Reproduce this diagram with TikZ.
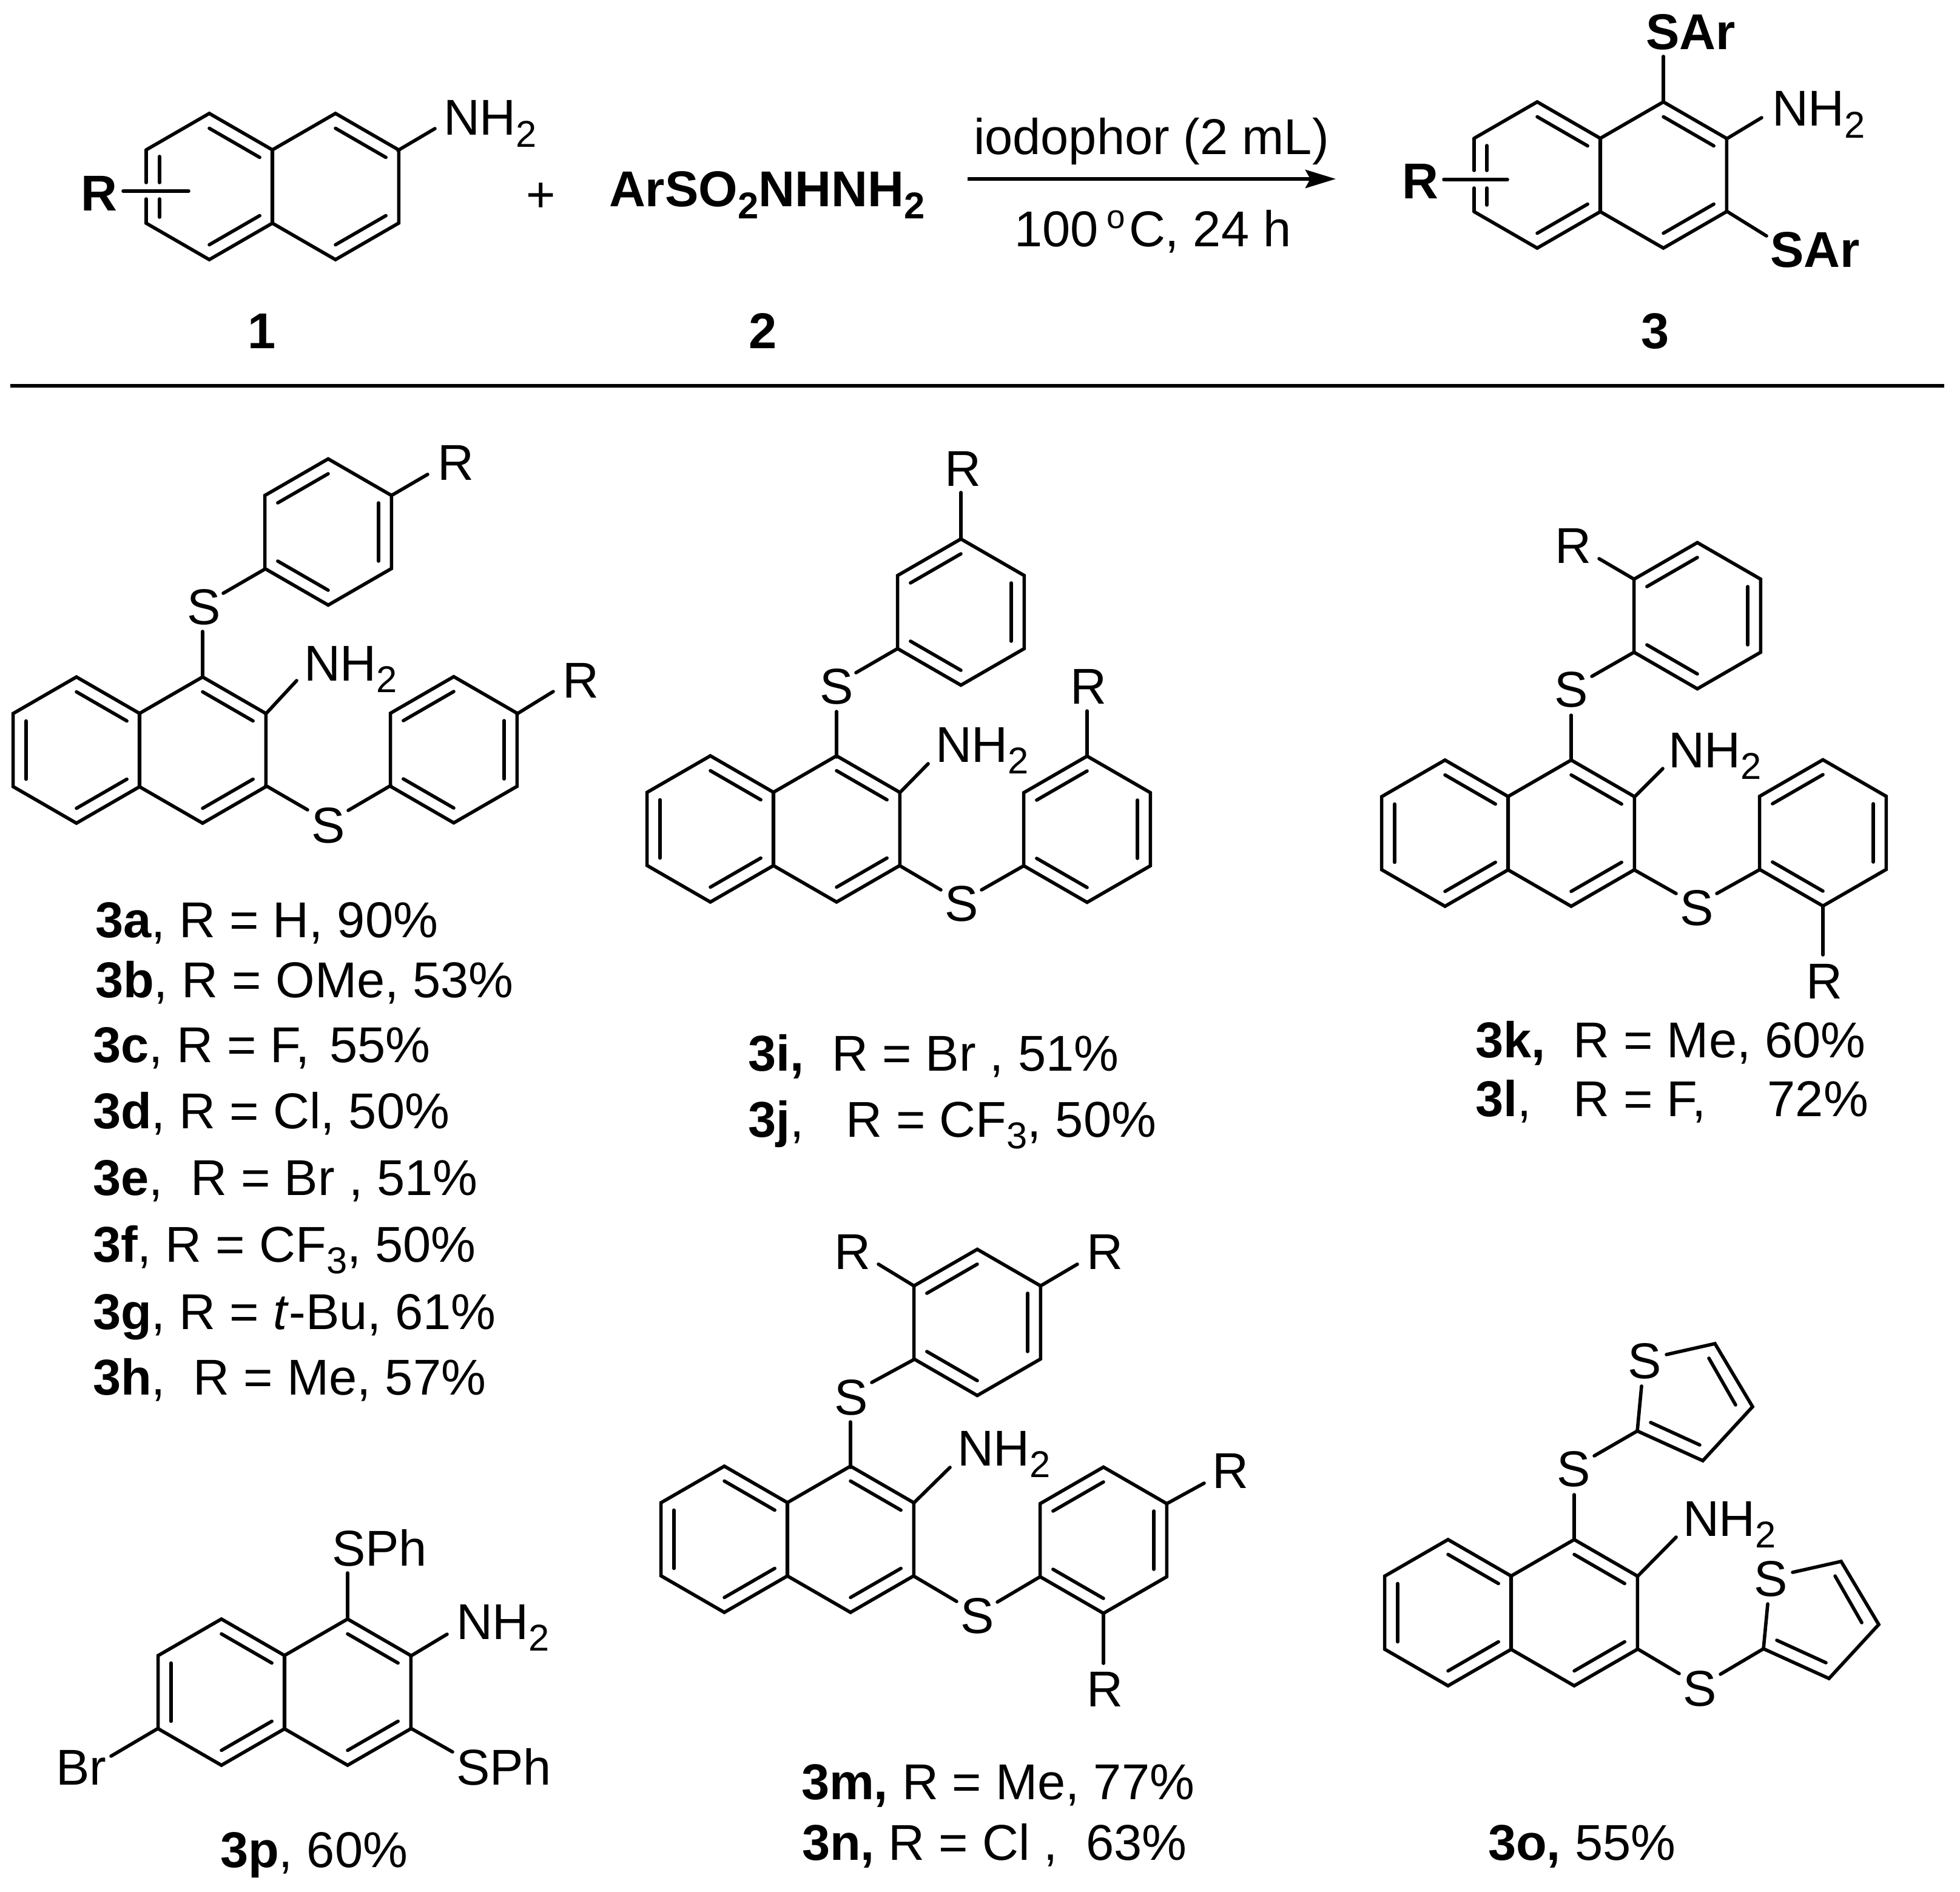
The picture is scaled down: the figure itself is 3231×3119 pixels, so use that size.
\documentclass[tikz,border=0pt]{standalone}
\usepackage{fontspec}
\setmainfont{Liberation Sans}
\usetikzlibrary{arrows.meta}
\newcommand{\subs}[1]{\raisebox{-0.19cm}{\fontsize{17.5}{20}\selectfont #1}}
\newcommand{\hexr}[3]{%
  \draw[bond] ({#1+120.5*cos(90)},{#2-120.5*sin(90)})
    \foreach \a in {30,-30,-90,-150,150} { -- ({#1+120.5*cos(\a)},{#2-120.5*sin(\a)}) } -- cycle;
  \foreach \a in {#3} {\draw[bond] ({#1+96*cos(\a)},{#2-96*sin(\a)}) -- ({#1+96*cos(\a-60)},{#2-96*sin(\a-60)});}}
\newcommand{\hexopen}[3]{%
  \draw[bond] ({#1+120.5*cos(150)},{#2-120.5*sin(150)})
    \foreach \a in {90,30,-30,-90,-150} { -- ({#1+120.5*cos(\a)},{#2-120.5*sin(\a)}) };
  \foreach \a in {#3} {\draw[bond] ({#1+96*cos(\a)},{#2-96*sin(\a)}) -- ({#1+96*cos(\a-60)},{#2-96*sin(\a-60)});}}
\newcommand{\naph}[2]{%
  \hexr{#1-104}{#2+59.5}{90,-30,-150}
  \hexr{#1+104}{#2+59.5}{90,-30}}
\newcommand{\lab}[4]{\node[lab] (#1) at (#2,#3) {#4};}
\newcommand{\catm}[4]{\node[catom] (#1) at (#2,#3) {#4};}
\newcommand{\thio}[3]{%
  \begin{scope}[shift={(#1,#2)}]
    \draw[bond] (2706,2285) -- (2699,2359) -- (2807,2408) -- (2889,2319) -- (2827,2215) -- (2747,2233);
    \draw[bond] (2721,2345) -- (2802,2382);
    \draw[bond] (2861,2316) -- (2817,2239);
    \node[catom] (#3) at (2711,2272) {S};
  \end{scope}}
\begin{document}
\begin{tikzpicture}[x=0.01cm,y=-0.01cm,
  bond/.style={line width=0.056cm,line cap=round,black},
  lab/.style={anchor=base west,inner sep=0pt,outer sep=0pt,xshift=-0.04cm,font=\fontsize{23.6}{28}\selectfont},
  catom/.style={anchor=base,inner sep=0pt,outer sep=0pt,font=\fontsize{23.6}{28}\selectfont}]
\useasboundingbox[fill=white] (0,0) rectangle (3231,3119);

% --- reaction scheme ---
\hexopen{345}{307.5}{90,-30}
\hexr{553}{307.5}{90,-30}
\draw[bond] (241,248) -- (241,301);
\draw[bond] (241,328) -- (241,368);
\draw[bond] (263,258) -- (263,301);
\draw[bond] (263,328) -- (263,358);
\draw[bond] (203,315) -- (311,315);
\draw[bond] (656,248) -- (717,212);
\lab{r1}{138}{348}{\textbf{R}}
\lab{nh1}{735}{223}{NH\subs{2}}
\node[catom] (plus) at (892,350) {+};
\lab{sulf}{1008}{341}{\textbf{ArSO\subs{2}NHNH\subs{2}}}
\node[catom] (n1) at (432,575) {\textbf{1}};
\node[catom] (n2) at (1258,575) {\textbf{2}};
\node[catom] (n3) at (2729,575) {\textbf{3}};
\coordinate (arrowA) at (1595,295);
\coordinate (arrowB) at (2202,295);
\draw[line width=0.06cm,-{Stealth[length=0.5cm,width=0.3cm,inset=0.08cm]}] (arrowA) -- (arrowB);
\lab{cond1}{1609}{255}{iodophor (2 mL)}
\lab{cond2}{1676}{407}{100\kern0.14cm\raisebox{0.3cm}{\fontsize{15.6}{18}\selectfont o}\kern0.06cmC, 24 h}
\hexopen{2534}{288.5}{90,-30}
\hexr{2742}{288.5}{90,-30}
\draw[bond] (2430,229) -- (2430,281);
\draw[bond] (2430,310) -- (2430,348);
\draw[bond] (2451,240) -- (2451,281);
\draw[bond] (2451,310) -- (2451,338);
\draw[bond] (2380,296) -- (2485,296);
\draw[bond] (2742,168) -- (2742,93);
\draw[bond] (2846,229) -- (2904,194);
\draw[bond] (2846,348) -- (2912,389);
\lab{r3}{2315}{328}{\textbf{R}}
\lab{sar1}{2717}{82}{\textbf{SAr}}
\lab{nh3}{2925}{208}{NH\subs{2}}
\lab{sar2}{2922}{441}{\textbf{SAr}}
\draw[line width=0.06cm] (17,636) -- (3205,636);

% --- 3a-h ---
\naph{230}{1177}
\hexr{541}{877}{150,30,-90}
\hexr{748}{1236}{150,30,-90}
\catm{a1}{336}{1029}{S}
\catm{a2}{541}{1389}{S}
\lab{a3}{505}{1122}{NH\subs{2}}
\lab{a4}{725}{792}{R}
\lab{a5}{931}{1150}{R}
\draw[bond] (334,1115) -- (334,1041);
\draw[bond] (437,938) -- (368,978);
\draw[bond] (645,817) -- (705,782);
\draw[bond] (438,1177) -- (489,1122);
\draw[bond] (438,1295) -- (507,1335);
\draw[bond] (574,1336) -- (644,1295);
\draw[bond] (852,1177) -- (912,1140);
\lab{t3a}{161}{1545}{\textbf{3a}, R = H, 90\%}
\lab{t3b}{161}{1644}{\textbf{3b}, R = OMe, 53\%}
\lab{t3c}{157}{1751}{\textbf{3c}, R = F,\hspace{0.33cm}55\%}
\lab{t3d}{157}{1860}{\textbf{3d}, R = Cl, 50\%}
\lab{t3e}{157}{1970}{\textbf{3e},\ \ R = Br , 51\%}
\lab{t3f}{157}{2080}{\textbf{3f}, R = CF\subs{3}, 50\%}
\lab{t3g}{157}{2191}{\textbf{3g}, R = \textit{t}-Bu, 61\%}
\lab{t3h}{157}{2299}{\textbf{3h},\ \ R = Me, 57\%}

% --- 3i,j ---
\naph{1275}{1307}
\hexr{1584}{1009}{150,30,-90}
\hexr{1792}{1367}{150,30,-90}
\catm{i1}{1379}{1160}{S}
\catm{i2}{1585}{1518}{S}
\lab{i3}{1546}{1256}{NH\subs{2}}
\lab{i4}{1561}{801}{R}
\lab{i5}{1768}{1160}{R}
\draw[bond] (1379,1248) -- (1379,1173);
\draw[bond] (1480,1069) -- (1411,1109);
\draw[bond] (1584,889) -- (1584,812);
\draw[bond] (1483,1307) -- (1530,1259);
\draw[bond] (1483,1427) -- (1551,1467);
\draw[bond] (1618,1467) -- (1688,1427);
\draw[bond] (1792,1247) -- (1792,1172);
\lab{t3i}{1237}{1765}{\textbf{3i,}\ \ R = Br , 51\%}
\lab{t3j}{1237}{1874}{\textbf{3j},\ \ \ R = CF\subs{3}, 50\%}

% --- 3k,l ---
\naph{2486}{1314}
\hexr{2798}{1015}{150,30,-90}
\hexr{3005}{1373}{150,30,-90}
\catm{k1}{2590}{1165}{S}
\catm{k2}{2797}{1525}{S}
\lab{k3}{2754}{1265}{NH\subs{2}}
\lab{k4}{2567}{929}{R}
\lab{k5}{2981}{1646}{R}
\draw[bond] (2590,1253) -- (2590,1179);
\draw[bond] (2694,1075) -- (2624,1115);
\draw[bond] (2694,955) -- (2636,921);
\draw[bond] (2694,1314) -- (2741,1267);
\draw[bond] (2694,1434) -- (2763,1473);
\draw[bond] (2830,1473) -- (2900,1434);
\draw[bond] (3005,1493) -- (3005,1574);
\lab{t3k}{2436}{1743}{\textbf{3k,}\ \ R = Me, 60\%}
\lab{t3l}{2436}{1840}{\textbf{3l},\ \ \ R = F,\ \ \ \ \kern0.09cm 72\%}

% --- 3m,n ---
\naph{1298}{2478}
\hexr{1611}{2180}{150,30,-90}
\hexr{1819}{2539}{150,30,-90}
\catm{m1}{1403}{2332}{S}
\catm{m2}{1611}{2692}{S}
\lab{m3}{1582}{2416}{NH\subs{2}}
\lab{m4}{1379}{2092}{R}
\lab{m5}{1795}{2092}{R}
\lab{m6}{2002}{2453}{R}
\lab{m7}{1795}{2813}{R}
\draw[bond] (1402,2419) -- (1402,2344);
\draw[bond] (1507,2241) -- (1437,2279);
\draw[bond] (1507,2120) -- (1448,2084);
\draw[bond] (1715,2120) -- (1776,2084);
\draw[bond] (1506,2478) -- (1566,2419);
\draw[bond] (1506,2598) -- (1577,2640);
\draw[bond] (1644,2641) -- (1715,2599);
\draw[bond] (1923,2479) -- (1985,2445);
\draw[bond] (1819,2659) -- (1819,2742);
\lab{t3m}{1325}{2966}{\textbf{3m,} R = Me, 77\%}
\lab{t3n}{1326}{3066}{\textbf{3n,} R = Cl ,\ \ 63\%}

% --- 3o ---
\naph{2491}{2599}
\thio{0}{0}{o1}
\thio{208}{359}{o2}
\catm{o3}{2594}{2450}{S}
\catm{o4}{2802}{2812}{S}
\lab{o5}{2778}{2532}{NH\subs{2}}
\draw[bond] (2595,2538) -- (2595,2464);
\draw[bond] (2628,2400) -- (2699,2359);
\draw[bond] (2699,2599) -- (2763,2534);
\draw[bond] (2699,2718) -- (2768,2759);
\draw[bond] (2836,2760) -- (2907,2718);
\lab{t3o}{2457}{3066}{\textbf{3o,} 55\%}

% --- 3p ---
\naph{469}{2730}
\lab{p1}{551}{2581}{SPh}
\lab{p2}{756}{2702}{NH\subs{2}}
\lab{p3}{756}{2942}{SPh}
\lab{p4}{96}{2942}{Br}
\draw[bond] (573,2668) -- (573,2593);
\draw[bond] (677,2730) -- (737,2694);
\draw[bond] (677,2849) -- (746,2888);
\draw[bond] (261,2849) -- (183,2895);
\lab{t3p}{367}{3078}{\textbf{3p}, 60\%}
\end{tikzpicture}
\end{document}
